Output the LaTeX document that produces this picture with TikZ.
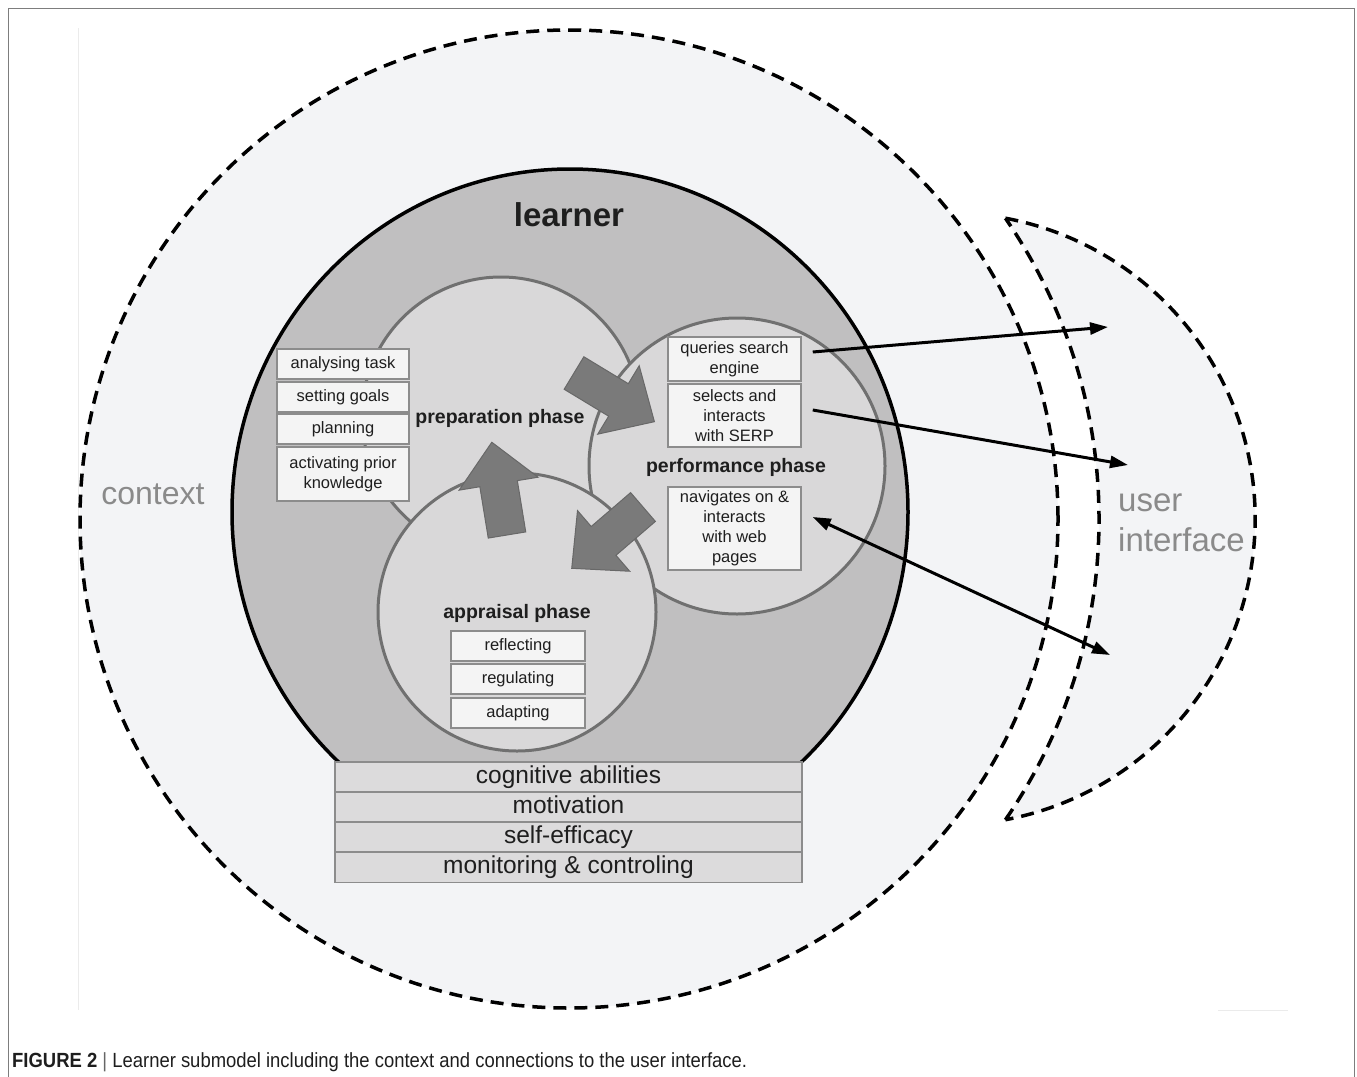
\documentclass[tikz,border=0pt]{standalone}
\usepackage{fontspec}
\setmainfont{Liberation Sans}
\newfontfamily\capfont[FakeStretch=0.9]{Liberation Sans}
\usetikzlibrary{arrows.meta,calc}
\definecolor{ctxfill}{RGB}{243,244,246}
\definecolor{lrnfill}{RGB}{192,191,192}
\definecolor{phfill}{RGB}{217,216,217}
\definecolor{phline}{RGB}{112,112,112}
\definecolor{blkarrow}{RGB}{122,122,122}
\definecolor{boxfill}{RGB}{244,244,244}
\definecolor{boxline}{RGB}{140,140,140}
\definecolor{botfill}{RGB}{220,219,220}
\definecolor{txtgray}{RGB}{138,138,138}
\definecolor{faintline}{RGB}{235,235,235}
\definecolor{framegray}{RGB}{125,125,125}
\definecolor{txtdark}{RGB}{30,30,30}
\newcommand\blkarrow[3]{%
  \begin{scope}[shift={(#1,#2)}, rotate=#3]
    \path[blockarr] (0pt,-19pt) -- (52pt,-19pt) -- (52pt,-40pt) -- (94pt,0pt)
      -- (52pt,40pt) -- (52pt,19pt) -- (0pt,19pt) -- cycle;
  \end{scope}}
\tikzset{
  ctxdash/.style={draw=black, line width=3.5pt, dash pattern=on 13pt off 8pt},
  phasecircle/.style={circle, fill=phfill, draw=phline, line width=3pt, inner sep=0pt},
  blockarr/.style={fill=blkarrow, draw=blkarrow!85!black, line width=1pt, line join=miter},
  sbox/.style={draw=boxline, fill=boxfill, line width=1.5pt, inner sep=0pt, align=center,
    font=\fontsize{16.5}{20}\selectfont, text=txtdark},
  botbox/.style={draw=boxline, fill=botfill, line width=1.5pt, inner sep=0pt,
    minimum width=467pt, minimum height=30pt, text height=17.5pt, text depth=5pt,
    font=\fontsize{24.5}{28}\selectfont, text=txtdark},
  phaselabel/.style={font=\bfseries\fontsize{19.5}{22}\selectfont, text=txtdark},
  bigtext/.style={font=\fontsize{33}{40}\selectfont, text=txtgray},
  conn/.style={line width=3pt, -{Triangle[length=18pt,width=12pt]}},
}
\begin{document}
\begin{tikzpicture}[x=1pt,y=-1pt]
\useasboundingbox (0,0) rectangle (1357,1076);
% frame and faint original-image edges
\draw[framegray, line width=1.5pt] (8.5,1080) -- (8.5,8.5) -- (1354.5,8.5) -- (1354.5,1080);
\draw[faintline, line width=1pt] (78,28) -- (78,1010);
\draw[faintline, line width=1pt] (1218,1010) -- (1288,1010);
% context
\node[circle, minimum size=978pt, inner sep=0pt, fill=ctxfill, ctxdash] (ctx) at (569,519) {};
% user interface crescent
\path[fill=ctxfill] (1005.4,218.2) arc[start angle=79.4, end angle=-79.4, radius=306pt]
  arc[start angle=-34.58, end angle=34.58, radius=530pt] -- cycle;
\draw[ctxdash] (1005.4,218.2) arc[start angle=79.4, end angle=-79.4, radius=306pt];
\draw[ctxdash] (1005.4,819.8) arc[start angle=-34.58, end angle=34.58, radius=530pt];
% learner
\begin{scope}
  \clip (0,0) rectangle (1357,762);
  \draw[fill=lrnfill, line width=3.5pt] (570,512) ellipse[x radius=338pt, y radius=343pt];
\end{scope}
% phases
\node[phasecircle, minimum size=278pt] (prep) at (501,416) {};
\node[phasecircle, minimum size=296pt] (perf) at (737,466) {};
\node[phasecircle, minimum size=278pt] (appr) at (517,612) {};
% block arrows
\blkarrow{574}{373}{-31.2}
\blkarrow{507}{535}{99.3}
\blkarrow{643}{507}{-139.3}
% preparation boxes
\node[sbox, minimum width=132pt, minimum height=30pt] (an) at (343,364) {analysing task};
\node[sbox, minimum width=132pt, minimum height=30pt] (sg) at (343,397) {setting goals};
\node[sbox, minimum width=132pt, minimum height=30pt] (pl) at (343,429) {planning};
\node[sbox, minimum width=132pt, minimum height=54pt] (ak) at (343,474) {activating prior\\knowledge};
% performance boxes
\node[sbox, minimum width=133pt, minimum height=44pt] (q) at (734.5,359) {queries search\\engine};
\node[sbox, minimum width=133pt, minimum height=63pt] (sel) at (734.5,415.5) {selects and\\interacts\\with SERP};
\node[sbox, minimum width=133pt, minimum height=83pt] (nav) at (734.5,528.5) {navigates on \&\\interacts\\with web\\pages};
% appraisal boxes
\node[sbox, minimum width=134pt, minimum height=30pt] (ref) at (518,646) {reflecting};
\node[sbox, minimum width=134pt, minimum height=30pt] (reg) at (518,679) {regulating};
\node[sbox, minimum width=134pt, minimum height=30pt] (ada) at (518,713) {adapting};
% learner characteristics
\node[botbox] (cog) at (568.5,777) {cognitive abilities};
\node[botbox] (mot) at (568.5,807) {motivation};
\node[botbox] (self) at (568.5,837) {self-efficacy};
\node[botbox] (mon) at (568.5,867.5) {monitoring \& controling};
% labels
\node[font=\bfseries\fontsize{33}{36}\selectfont, text=txtdark] (lrnl) at (569,215) {learner};
\node[phaselabel] (prepl) at (500,418) {preparation phase};
\node[phaselabel] (perfl) at (736,467) {performance phase};
\node[phaselabel] (apprl) at (517,613) {appraisal phase};
\node[bigtext, font=\fontsize{32}{36}\selectfont] (ctxl) at (153,494) {context};
\node[bigtext, align=left, anchor=west, inner sep=0pt] (uil) at (1118,523) {user\\interface};
% connectors to the user interface
\coordinate (u1) at (1108,327);
\coordinate (u2) at (1128,465);
\coordinate (u3) at (1110,655);
\draw[conn] ([xshift=11pt,yshift=7pt]q.east) -- (u1);
\draw[conn] ([xshift=11pt,yshift=5.5pt]sel.east) -- (u2);
\draw[conn, {Triangle[length=18pt,width=12pt]}-{Triangle[length=18pt,width=12pt]}]
  ([xshift=11pt,yshift=11.5pt]nav.east) -- (u3);
% caption
\node[anchor=base west, inner sep=0pt, font=\capfont\fontsize{20.5}{24}\selectfont, text=txtdark] (cap) at (12,1067)
  {\textbf{FIGURE 2} {\color{black!60}|} Learner submodel including the context and connections to the user interface.};
\end{tikzpicture}
\end{document}
